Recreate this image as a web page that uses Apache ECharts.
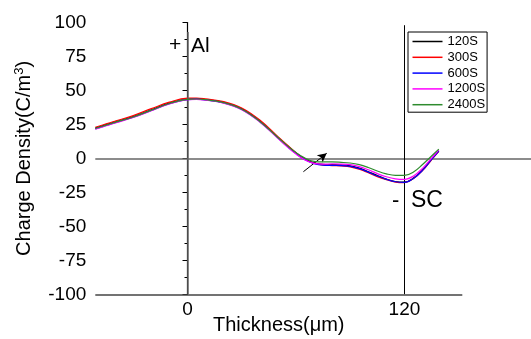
<!DOCTYPE html>
<html>
<head>
<meta charset="utf-8">
<script src="https://cdn.jsdelivr.net/npm/echarts@6/dist/echarts.min.js"></script>
<style>html,body{margin:0;padding:0;background:#fff;}#c{width:531px;height:339px;}</style>
</head>
<body>
<div id="c"></div>
<script>
const thickness = [-51, -45, -40, -30, -20, -10, 0, 5, 10, 20, 30, 40, 50, 55, 60, 65, 70, 75, 80, 85, 90, 95, 100, 105, 110, 115, 120, 125, 130, 135, 139];
const s120  = [22.3,24.8,26.8,30.8,35.8,40.7,43.7,43.9,43.3,41.2,36.5,27.5,15.5,9.5,4.0,-0.5,-3.3,-4.4,-4.6,-4.8,-5.5,-7.2,-9.8,-12.6,-15.2,-17.0,-17.4,-14.5,-8.5,-0.5,5.5];
const s300  = [22.9,25.4,27.4,31.5,36.6,41.4,44.3,44.4,43.8,41.8,37.1,28.2,16.0,10.0,4.2,-0.6,-3.6,-4.9,-5.3,-5.6,-6.2,-8.0,-10.6,-13.4,-15.6,-17.4,-17.8,-14.8,-9.0,-1.0,5.2];
const s600  = [21.7,24.2,26.3,30.3,35.3,40.2,43.3,43.6,43.0,40.8,36.0,27.0,15.0,9.0,3.5,-1.0,-3.8,-5.0,-5.2,-5.3,-5.9,-7.5,-10.1,-13.0,-15.4,-17.2,-17.6,-14.7,-8.8,-0.8,5.4];
const s1200 = [21.5,24.0,26.1,30.1,35.1,40.0,43.2,43.5,42.9,40.7,35.8,26.8,14.8,8.7,3.2,-1.2,-3.6,-4.2,-4.1,-4.2,-4.6,-6.0,-8.4,-11.2,-13.5,-15.0,-15.4,-13.0,-7.3,0.2,6.2];
const s2400 = [22.0,24.5,26.5,30.5,35.5,40.4,43.5,43.7,43.2,41.0,36.2,27.2,15.4,9.6,4.3,0.2,-2.2,-2.6,-2.6,-2.9,-3.4,-4.6,-6.7,-9.3,-11.4,-12.5,-12.5,-10.0,-4.5,1.8,6.8];
const seriesNames = ['120S', '300S', '600S', '1200S', '2400S'];
const seriesColors = ['#000000', '#ff0000', '#0000ff', '#ff00ff', '#2e8b2e'];
const xTicks = [0, 120];
const yTicks = [-100, -75, -50, -25, 0, 25, 50, 75, 100];
const arrowFrom = [64.1, -9.8];
const arrowTo = [77, 3.75];

const FONT = 'Liberation Sans, Arial, sans-serif';
const allValues = [s120, s300, s600, s1200, s2400];

const chart = echarts.init(document.getElementById('c'), null, {renderer: 'canvas'});

const series = seriesNames.map((name, i) => ({
  name: name,
  type: 'line',
  symbol: 'none',
  smooth: 0.4,
  data: thickness.map((x, j) => [x, allValues[i][j]]),
  lineStyle: {color: seriesColors[i], width: 1.2},
  itemStyle: {color: seriesColors[i]},
  z: 3 + i
}));

series.push({
  type: 'line',
  data: [],
  clip: false,
  silent: true,
  markLine: {
    silent: true,
    symbol: 'none',
    label: {show: false},
    animation: false,
    data: [
      [{coord: [-51, 0], lineStyle: {color: '#666', width: 1.5, type: 'solid'}}, {coord: [190, 0]}],
      [{coord: [0, 93], lineStyle: {color: '#666', width: 1.5, type: 'solid'}}, {coord: [0, -100]}],
      [{coord: [120, 98], lineStyle: {color: '#000', width: 1, type: 'solid'}}, {coord: [120, -100]}],
      [{coord: [-51, -100], lineStyle: {color: '#444', width: 1.5, type: 'solid'}}, {coord: [152, -100]}]
    ]
  },
  z: 2
});

series.push({
  type: 'line',
  data: [],
  clip: false,
  silent: true,
  markLine: {
    silent: true,
    symbol: ['none', 'arrow'],
    symbolSize: [7, 9],
    label: {show: false},
    animation: false,
    data: [
      [{coord: arrowFrom, lineStyle: {color: '#000', width: 1, type: 'solid'}}, {coord: arrowTo}]
    ]
  },
  z: 10
});

chart.setOption({
  animation: false,
  backgroundColor: '#fff',
  textStyle: {fontFamily: FONT},
  grid: {left: 95.3, right: 0, top: 22.5, bottom: 44.7, containLabel: false},
  xAxis: {
    type: 'value',
    min: -51,
    max: 190,
    axisLine: {show: false},
    axisTick: {show: false},
    splitLine: {show: false},
    axisLabel: {customValues: xTicks, fontSize: 19, color: '#000', margin: 6, fontFamily: FONT}
  },
  yAxis: {
    type: 'value',
    min: -100,
    max: 100,
    interval: 25,
    name: '{a|Charge Density(C/m}{b|3}{a|)}',
    nameLocation: 'middle',
    nameGap: 60,
    nameTextStyle: {
      fontFamily: FONT,
      rich: {
        a: {fontSize: 20, color: '#000', fontFamily: FONT, lineHeight: 22},
        b: {fontSize: 13, color: '#000', fontFamily: FONT, verticalAlign: 'top', lineHeight: 14}
      }
    },
    axisLine: {show: true, lineStyle: {color: '#000', width: 1.2}},
    axisTick: {show: true, inside: false, length: 5, lineStyle: {color: '#000', width: 1}},
    minorTick: {show: true, splitNumber: 2, length: 3, lineStyle: {color: '#000', width: 1}},
    splitLine: {show: false},
    axisLabel: {fontSize: 19, color: '#000', margin: 9, fontFamily: FONT}
  },
  legend: {
    orient: 'vertical',
    left: 408,
    top: 32,
    data: seriesNames,
    icon: 'rect',
    itemWidth: 30,
    itemHeight: 1.5,
    itemGap: 1.8,
    padding: [2.5, 2, 0.5, 4.5],
    borderColor: '#000',
    borderWidth: 1,
    backgroundColor: '#fff',
    textStyle: {fontSize: 13, color: '#000', fontFamily: FONT, lineHeight: 14}
  },
  title: {
    text: 'Thickness(μm)',
    left: 213,
    top: 315,
    padding: 0,
    textStyle: {fontSize: 20, fontWeight: 'normal', color: '#000', fontFamily: FONT}
  },
  graphic: [
    {type: 'text', left: 169, top: 35, style: {text: '+', fontSize: 21, fill: '#000', fontFamily: FONT}},
    {type: 'text', left: 191, top: 36, style: {text: 'Al', fontSize: 21, fill: '#000', fontFamily: FONT}},
    {type: 'text', left: 392, top: 190, style: {text: '-', fontSize: 22, fill: '#000', fontFamily: FONT}},
    {type: 'text', left: 411, top: 189, style: {text: 'SC', fontSize: 23, fill: '#000', fontFamily: FONT}}
  ],
  series: series
});
</script>
</body>
</html>
